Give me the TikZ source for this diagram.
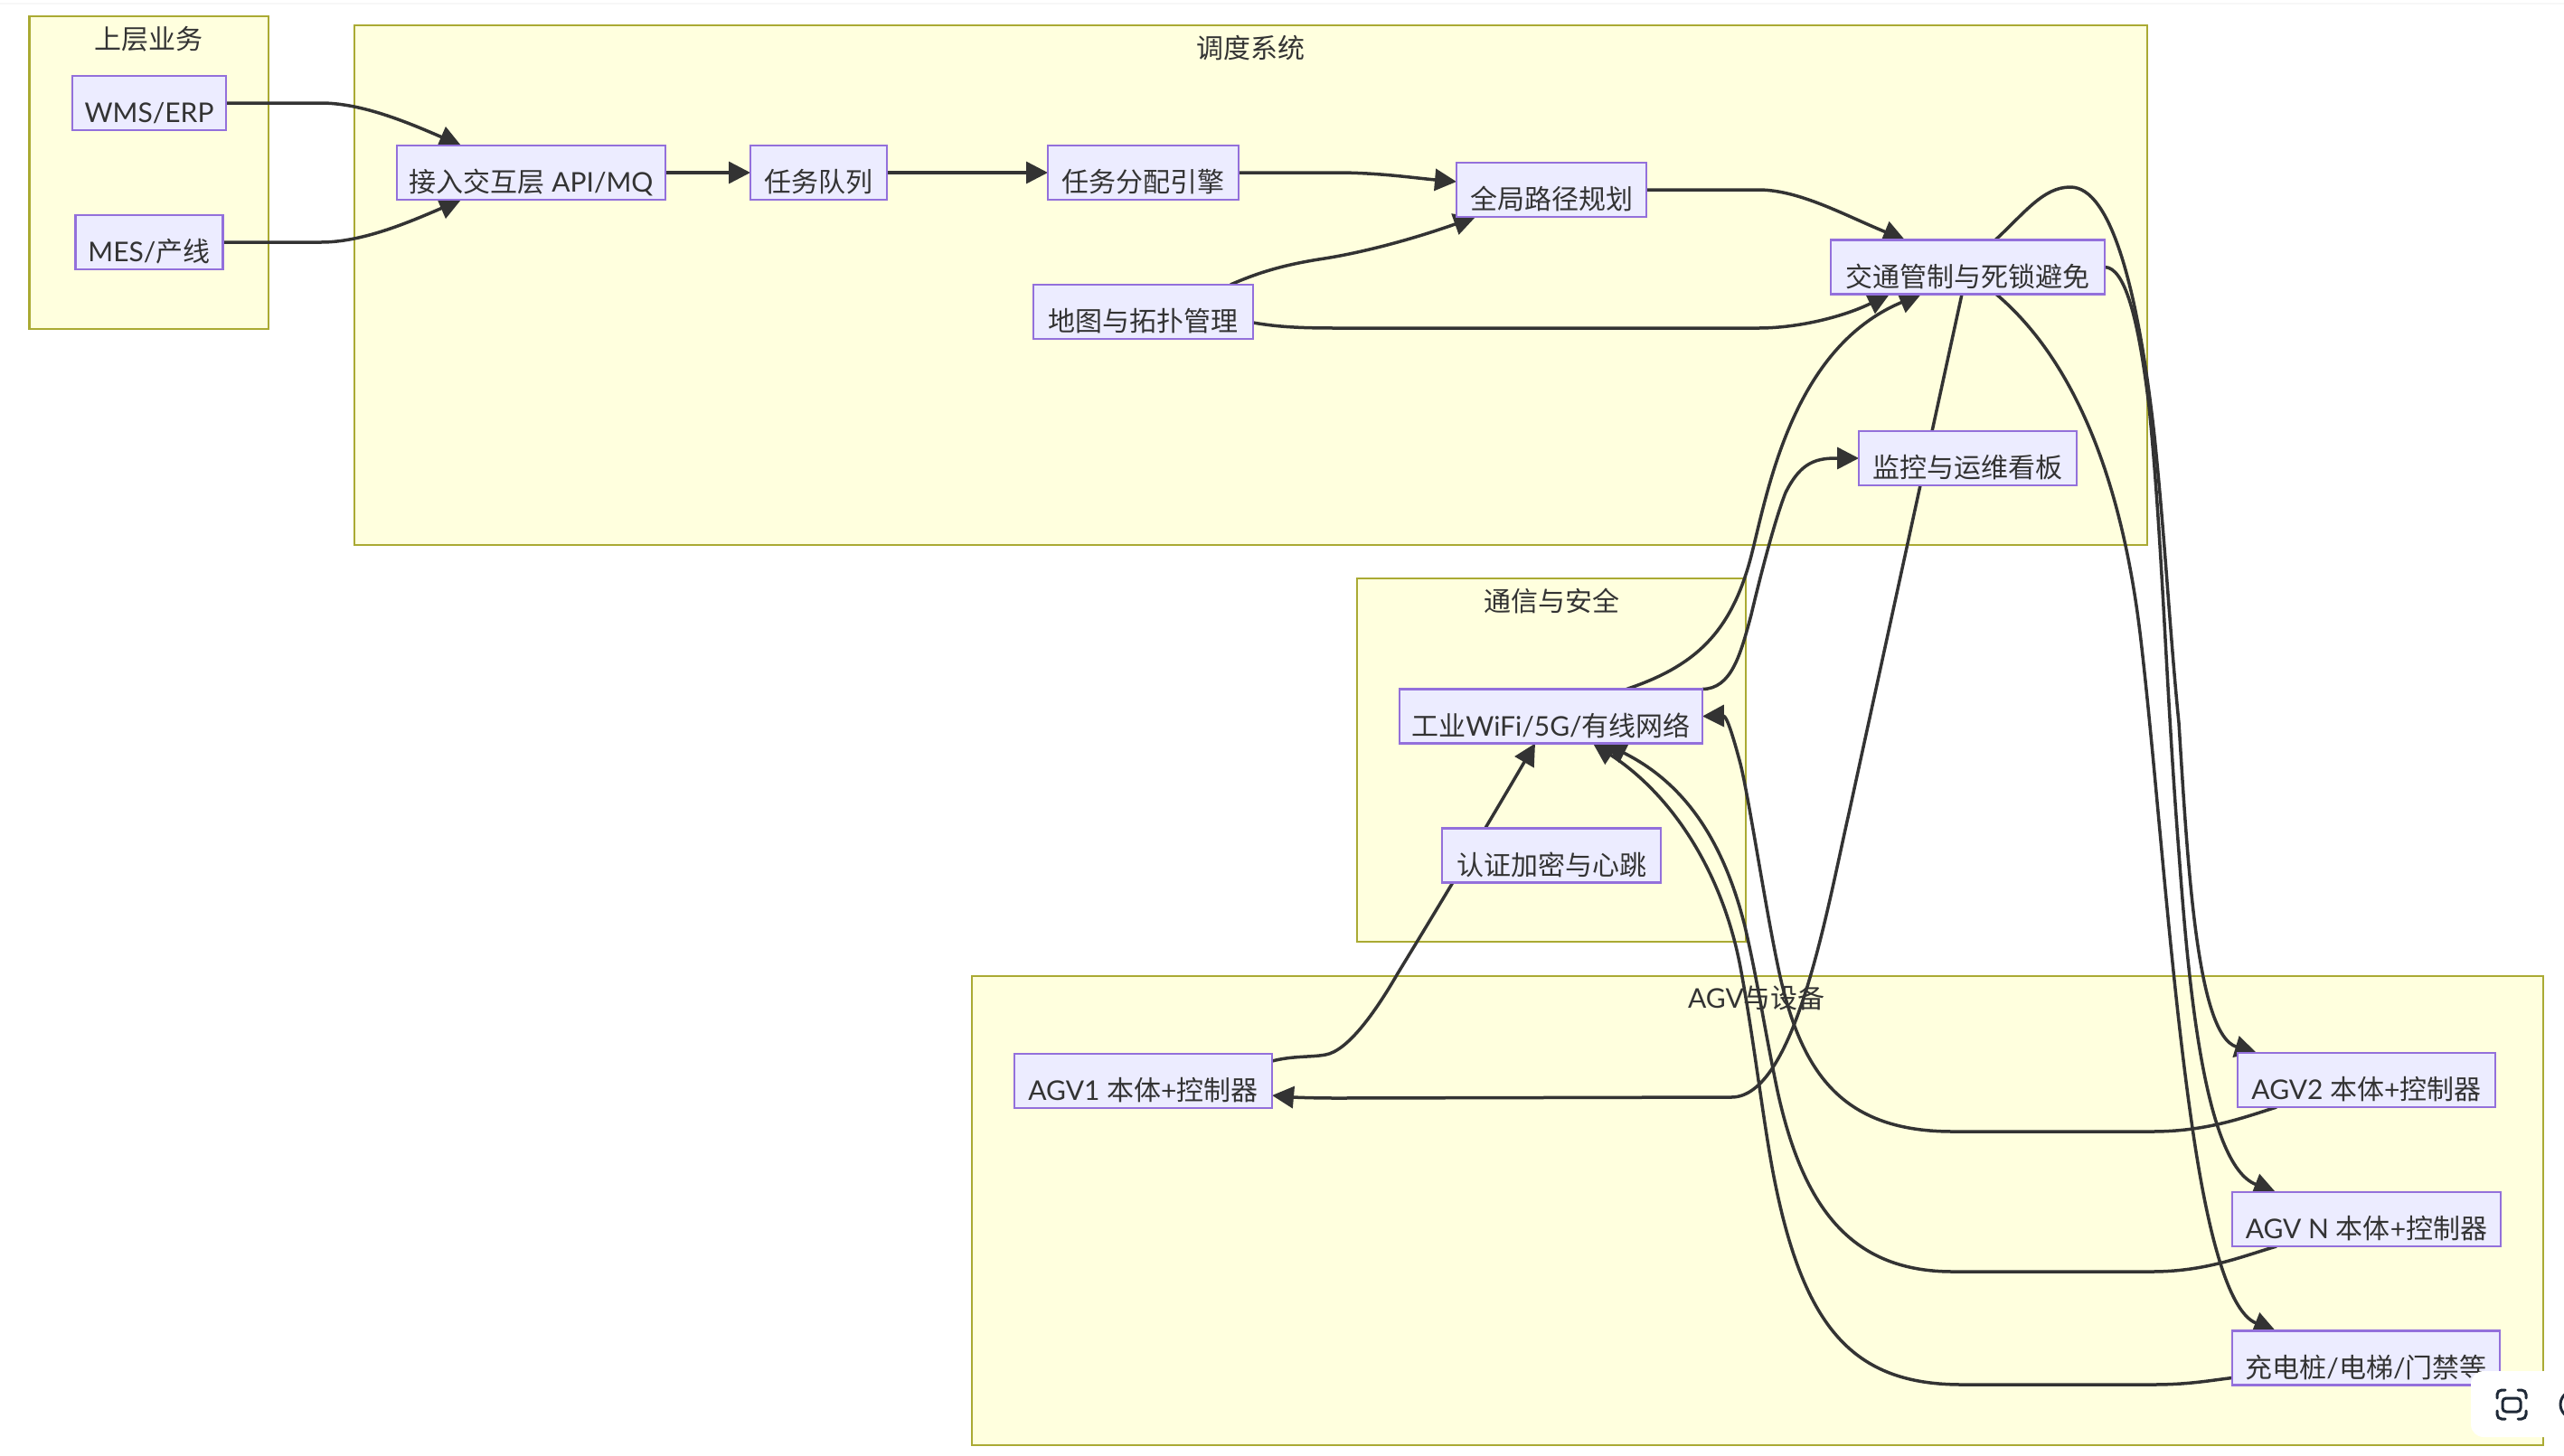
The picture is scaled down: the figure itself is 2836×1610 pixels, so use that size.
\documentclass[tikz,border=0pt]{standalone}
\usepackage{fontspec}
\setmainfont{Noto Sans CJK SC}
\newfontfamily\lat{Lato}
\usetikzlibrary{arrows.meta,calc}
\definecolor{nodefill}{HTML}{ECECFF}
\definecolor{nodeline}{HTML}{9370DB}
\definecolor{clusterfill}{HTML}{FFFFDE}
\definecolor{clusterline}{HTML}{AAAA33}
\definecolor{inkc}{HTML}{333333}
\definecolor{iconc}{HTML}{1F2937}
\newcommand{\nlabel}[1]{\raisebox{-21.5pt}[0pt][0pt]{#1}}
\tikzset{
  cluster/.style={draw=clusterline,fill=clusterfill,line width=2.4pt},
  boxnode/.style={draw=nodeline,fill=nodefill,line width=2.4pt,inner sep=0pt,outer sep=0pt,
    minimum height=60pt,text=inkc,font=\fontsize{30}{36}\selectfont},
  titlenode/.style={anchor=base,inner sep=0pt,text=inkc,font=\fontsize{30}{36}\selectfont},
  conn/.style={draw=inkc,line width=3.5pt,-{Triangle[length=24pt,width=24pt]}},
}
\begin{document}
\begin{tikzpicture}[x=1pt,y=-1pt]
\useasboundingbox (0,0) rectangle (2836,1610);
\fill[white] (0,0) rectangle (2836,1610);
\fill[black!3!white] (0,3) rectangle (2836,5);
% clusters
\draw[cluster] (32.5,18) rectangle (297,364);
\draw[cluster] (392,28) rectangle (2375,603);
\draw[cluster] (1501,640) rectangle (1931,1042);
\draw[cluster] (1075,1080) rectangle (2813,1599);
\node[titlenode] (t1) at (164.5,54) {上层业务};
\node[titlenode] (t2) at (1383.5,64) {调度系统};
\node[titlenode] (t3) at (1716,676.5) {通信与安全};
\node[titlenode] (t4) at (1943,1115.5) {{\lat AGV}与设备};
\pgfdeclarelayer{front}
\pgfsetlayers{main,front}
\begin{pgfonlayer}{front}
\node[boxnode,minimum width=170pt] (wms) at (165,114) {\nlabel{\lat WMS/ERP}};
\node[boxnode,minimum width=163pt] (mes) at (165,268) {\nlabel{{\lat MES/}产线}};
\node[boxnode,minimum width=297pt] (api) at (587.5,191) {\nlabel{接入交互层{\lat\ API/MQ}}};
\node[boxnode,minimum width=151pt] (que) at (905.5,191) {\nlabel{任务队列}};
\node[boxnode,minimum width=211pt] (alc) at (1264.5,191) {\nlabel{任务分配引擎}};
\node[boxnode,minimum width=210pt] (gpl) at (1716,210) {\nlabel{全局路径规划}};
\node[boxnode,minimum width=243pt] (map) at (1264.5,345) {\nlabel{地图与拓扑管理}};
\node[boxnode,minimum width=303pt] (jt) at (2176.5,295.5) {\nlabel{交通管制与死锁避免}};
\node[boxnode,minimum width=241pt] (mon) at (2176.5,507) {\nlabel{监控与运维看板}};
\node[boxnode,minimum width=335pt] (net) at (1715.5,792.5) {\nlabel{工业{\lat WiFi/5G/}有线网络}};
\node[boxnode,minimum width=242pt] (aut) at (1716,946.5) {\nlabel{认证加密与心跳}};
\node[boxnode,minimum width=285pt] (ag1) at (1264.5,1196) {\nlabel{{\lat AGV1\ }本体{\lat +}控制器}};
\node[boxnode,minimum width=285pt] (ag2) at (2617.5,1195) {\nlabel{{\lat AGV2\ }本体{\lat +}控制器}};
\node[boxnode,minimum width=297pt] (agn) at (2617.5,1349) {\nlabel{{\lat AGV N\ }本体{\lat +}控制器}};
\node[boxnode,minimum width=296pt] (chg) at (2617,1502.5) {\nlabel{充电桩{\lat /}电梯{\lat /}门禁等}};
% floating toolbar
\fill[white,rounded corners=14pt] (2733,1517) rectangle (2860,1590);
\draw[iconc,line width=3pt,line cap=round,rounded corners=5pt]
  (2762,1547) -- (2762,1538) -- (2771,1538)
  (2785,1538) -- (2794,1538) -- (2794,1547)
  (2794,1561) -- (2794,1570) -- (2785,1570)
  (2771,1570) -- (2762,1570) -- (2762,1561);
\draw[iconc,line width=3pt,rounded corners=4pt] (2768,1547) rectangle (2788,1562);
\begin{scope}
\clip (2800,1530) rectangle (2836,1580);
\draw[iconc,line width=3pt] (2847,1554) circle[radius=15pt];
\end{scope}
\end{pgfonlayer}
% connectors
\draw[conn] (wms.east) -- (355,114) .. controls (400,114) and (450,135) .. ($(api.north west)+(71,0)$);
\draw[conn] (mes.east) -- (355,268) .. controls (400,268) and (450,247) .. ($(api.south west)+(71,0)$);
\draw[conn] (api.east) -- (que.west);
\draw[conn] (que.east) -- (alc.west);
\draw[conn] (alc.east) -- (1478,191) .. controls (1525,191) and (1565,197) .. ($(gpl.west)+(0,-9)$);
\draw[conn] ($(map.north west)+(218,0)$) .. controls (1395,300) and (1425,292) .. (1465,286) .. controls (1515,278) and (1570,262) .. ($(gpl.south west)+(21,0)$);
\draw[conn] (gpl.east) -- (1945,210) .. controls (1990,210) and (2040,238) .. ($(jt.north west)+(82,0)$);
\draw[conn] ($(map.east)+(0,12)$) .. controls (1415,362) and (1440,363) .. (1480,363) -- (1945,363) .. controls (1990,363) and (2040,350) .. ($(jt.south west)+(65,0)$);
\draw[conn] ($(net.north west)+(251,0)$) .. controls (1875,737) and (1915,700) .. (1937,615) .. controls (1955,545) and (1982,385) .. ($(jt.south west)+(100,0)$);
\draw[conn] ($(net.north east)$) .. controls (1915,762) and (1925,725) .. (1937,680) .. controls (1950,625) and (1965,570) .. (1975,545) .. controls (1990,515) and (2005,507) .. (2030,507) -- (mon.west);
\draw[conn] ($(ag1.east)+(0,-22)$) .. controls (1430,1168) and (1450,1170) .. (1466,1167) .. controls (1490,1163) and (1520,1122) .. (1546,1077) .. controls (1590,1005) and (1650,905) .. ($(net.south west)+(150,0)$);
\draw[conn] ($(jt.south west)+(145,0)$) -- (2045,900) .. controls (2020,1010) and (1985,1214) .. (1915,1214) -- (1480,1215) .. controls (1450,1215) and (1430,1214) .. ($(ag1.east)+(0,16)$);
\draw[conn] ($(ag2.south west)+(43,0)$) .. controls (2480,1237) and (2440,1252) .. (2380,1252) -- (2160,1252) .. controls (2040,1252) and (1995,1190) .. (1970,1085) .. controls (1955,1020) and (1935,885) .. (1925,845) .. controls (1917,815) and (1910,792) .. (net.east);
\draw[conn] ($(agn.south west)+(49,0)$) .. controls (2480,1390) and (2440,1407) .. (2380,1407) -- (2160,1407) .. controls (2050,1407) and (1995,1340) .. (1966,1207) .. controls (1950,1130) and (1945,1090) .. (1930,1025) .. controls (1905,925) and (1860,865) .. ($(net.south west)+(227,0)$);
\draw[conn] ($(chg.south west)+(0,-8)$) .. controls (2440,1528) and (2420,1532) .. (2380,1532) -- (2170,1532) .. controls (2050,1532) and (1995,1470) .. (1962,1302) .. controls (1950,1240) and (1940,1150) .. (1925,1070) .. controls (1905,965) and (1850,880) .. ($(net.south west)+(214,0)$);
\draw[conn] ($(jt.north west)+(182,0)$) .. controls (2240,235) and (2260,207) .. (2290,207) .. controls (2335,207) and (2365,320) .. (2383,483) .. controls (2395,600) and (2400,700) .. (2410,800) .. controls (2420,960) and (2430,1145) .. ($(ag2.north west)+(21,0)$);
\draw[conn] (jt.east) .. controls (2350,296) and (2365,350) .. (2377,450) .. controls (2392,600) and (2395,750) .. (2410,943) .. controls (2420,1080) and (2437,1288) .. ($(agn.north west)+(48,0)$);
\draw[conn] ($(jt.south west)+(183,0)$) .. controls (2290,395) and (2345,520) .. (2367,700) .. controls (2385,850) and (2400,1080) .. (2426,1255) .. controls (2438,1336) and (2460,1450) .. ($(chg.north west)+(48,0)$);
\end{tikzpicture}
\end{document}
